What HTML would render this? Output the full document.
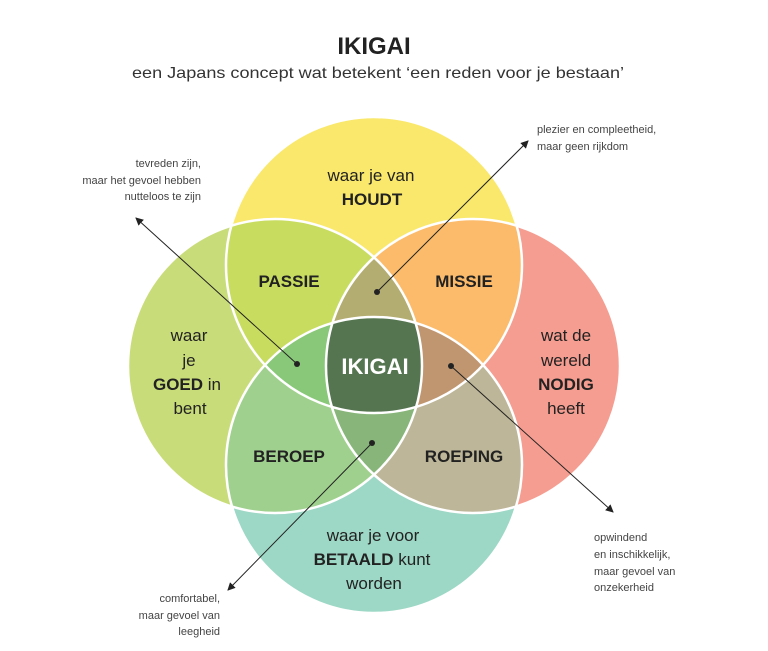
<!DOCTYPE html>
<html><head><meta charset="utf-8"><style>
html,body{margin:0;padding:0;background:#fff;width:768px;height:651px;overflow:hidden}
svg{display:block}
text{font-family:"Liberation Sans",sans-serif}
</style></head><body>
<svg width="768" height="651" viewBox="0 0 768 651" xmlns="http://www.w3.org/2000/svg">
<defs>
<clipPath id="cT"><circle cx="374" cy="265" r="148"/></clipPath>
<clipPath id="cB"><circle cx="374" cy="465" r="148"/></clipPath>
<clipPath id="cL"><circle cx="275" cy="366" r="147"/></clipPath>
<clipPath id="cR"><circle cx="473" cy="366" r="147"/></clipPath>
<marker id="ah" markerWidth="8" markerHeight="8" refX="7" refY="4" orient="auto" markerUnits="userSpaceOnUse"><path d="M0,0 L8,4 L0,8 z" fill="#222"/></marker>
</defs>
<text x="374" y="54" text-anchor="middle" font-size="24" font-weight="bold" fill="#222">IKIGAI</text>
<text x="378" y="78" text-anchor="middle" font-size="16" fill="#333" textLength="492" lengthAdjust="spacingAndGlyphs">een Japans concept wat betekent ‘een reden voor je bestaan’</text>

<circle cx="374" cy="265" r="148" fill="#f9e86c"/>
<circle cx="374" cy="465" r="148" fill="#9dd7c5"/>
<circle cx="275" cy="366" r="147" fill="#c9dc7a"/>
<circle cx="473" cy="366" r="147" fill="#f59d90"/>
<g clip-path="url(#cT)"><circle cx="275" cy="366" r="147" fill="#c8dc60"/><circle cx="473" cy="366" r="147" fill="#fbbb6a"/></g>
<g clip-path="url(#cB)"><circle cx="275" cy="366" r="147" fill="#a0d08e"/><circle cx="473" cy="366" r="147" fill="#beb698"/></g>
<g clip-path="url(#cL)"><g clip-path="url(#cR)"><circle cx="374" cy="265" r="148" fill="#b4ad72"/><circle cx="374" cy="465" r="148" fill="#88b67a"/></g></g>
<g clip-path="url(#cT)"><g clip-path="url(#cB)"><circle cx="275" cy="366" r="147" fill="#88c878"/><circle cx="473" cy="366" r="147" fill="#bf9670"/></g></g>
<g clip-path="url(#cT)"><g clip-path="url(#cB)"><g clip-path="url(#cL)"><circle cx="473" cy="366" r="147" fill="#557550"/></g></g></g>
<g fill="none" stroke="#fff" stroke-width="2.5">
<circle cx="374" cy="265" r="148"/><circle cx="374" cy="465" r="148"/>
<circle cx="275" cy="366" r="147"/><circle cx="473" cy="366" r="147"/>
</g>

<g font-size="17" fill="#222" text-anchor="middle">
<text x="371" y="181">waar je van</text>
<text x="372" y="205" font-weight="bold">HOUDT</text>
<text x="289" y="287" font-weight="bold">PASSIE</text>
<text x="464" y="287" font-weight="bold">MISSIE</text>
<text x="289" y="462" font-weight="bold">BEROEP</text>
<text x="464" y="462" font-weight="bold">ROEPING</text>
<text x="189" y="341">waar</text>
<text x="189" y="366">je</text>
<text x="187" y="390"><tspan font-weight="bold">GOED</tspan> in</text>
<text x="190" y="414">bent</text>
<text x="566" y="341">wat de</text>
<text x="566" y="366">wereld</text>
<text x="566" y="390" font-weight="bold">NODIG</text>
<text x="566" y="414">heeft</text>
<text x="373" y="541">waar je voor</text>
<text x="372" y="565"><tspan font-weight="bold">BETAALD</tspan> kunt</text>
<text x="374" y="589">worden</text>
</g>
<text x="375" y="374" text-anchor="middle" font-size="22" font-weight="bold" fill="#fff">IKIGAI</text>

<g stroke="#222" stroke-width="1" fill="none" marker-end="url(#ah)">
<line x1="377" y1="292" x2="528" y2="141"/>
<line x1="297" y1="364" x2="136" y2="218"/>
<line x1="451" y1="366" x2="613" y2="512"/>
<line x1="372" y1="443" x2="228" y2="590"/>
</g>
<g fill="#222">
<circle cx="377" cy="292" r="3"/><circle cx="297" cy="364" r="3"/>
<circle cx="451" cy="366" r="3"/><circle cx="372" cy="443" r="3"/>
</g>
<g font-size="11" fill="#444">
<text x="537" y="133">plezier en compleetheid,</text>
<text x="537" y="150">maar geen rijkdom</text>
<g text-anchor="end">
<text x="201" y="167">tevreden zijn,</text>
<text x="201" y="184">maar het gevoel hebben</text>
<text x="201" y="200">nutteloos te zijn</text>
<text x="220" y="602">comfortabel,</text>
<text x="220" y="619">maar gevoel van</text>
<text x="220" y="635">leegheid</text>
</g>
<text x="594" y="541">opwindend</text>
<text x="594" y="558">en inschikkelijk,</text>
<text x="594" y="575">maar gevoel van</text>
<text x="594" y="591">onzekerheid</text>
</g>
</svg>
</body></html>
